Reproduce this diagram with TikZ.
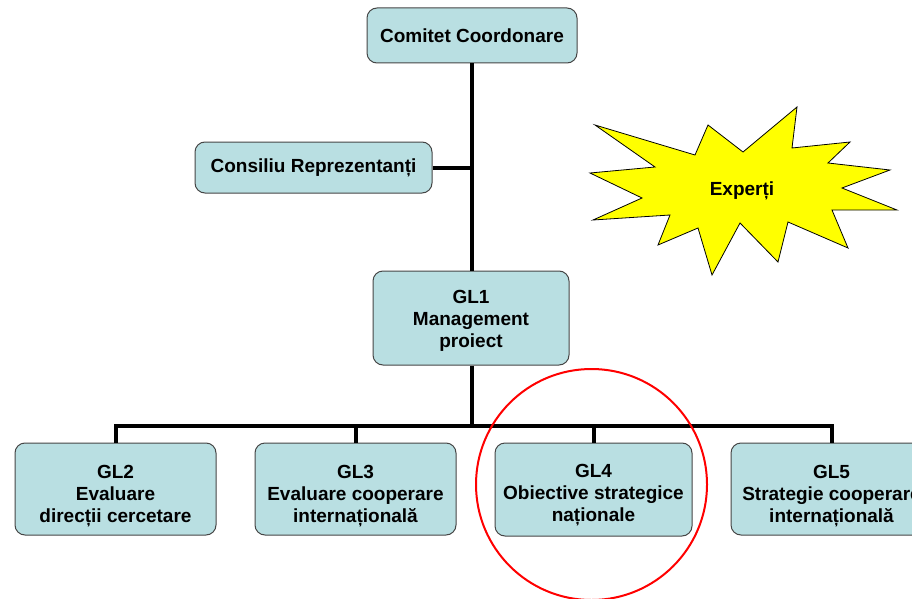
\documentclass[tikz,border=0pt]{standalone}
\usepackage{fontspec}
\setmainfont{Liberation Sans}
\definecolor{boxfill}{RGB}{185,223,226}
\definecolor{boxline}{RGB}{70,70,70}
\definecolor{starfill}{RGB}{255,255,0}
\begin{document}
\begin{tikzpicture}[x=1pt,y=-1pt,
  box/.style={draw=boxline, fill=boxfill, rounded corners=10pt, line width=1pt,
    inner sep=0pt},
  conn/.style={line width=4pt, draw=black},
  lbl/.style={font=\fontsize{19}{22}\selectfont\bfseries, align=center, inner sep=0pt}]
\clip (0,0) rectangle (912,599);
\fill[white] (0,0) rectangle (912,599);
% star
\draw[fill=starfill, draw=black, line width=0.8pt, line join=miter]
 (595,125) -- (695,155) -- (708,125) -- (743,152) -- (797,107) -- (792,148)
 -- (850,142) -- (828,163) -- (890,170) -- (842,188) -- (897,210) -- (832,210)
 -- (848,248) -- (788,222) -- (778,262) -- (740,223) -- (712,275) -- (698,228)
 -- (658,245) -- (670,215) -- (593,220) -- (642,198) -- (590,173) -- (655,167) -- cycle;
\node[lbl] (exp) at (742,191) {Experți};
% boxes
\node[box, minimum width=210pt, minimum height=55pt] (cc) at (472,35.5) {};
\node[box, minimum width=237pt, minimum height=51pt] (cr) at (313.5,167.5) {};
\node[box, minimum width=196pt, minimum height=94pt] (gl1) at (471,318) {};
\node[box, minimum width=201pt, minimum height=92pt] (gl2) at (115.5,489) {};
\node[box, minimum width=201pt, minimum height=92pt] (gl3) at (355.5,489) {};
\node[box, minimum width=197pt, minimum height=93pt] (gl4) at (593.5,489.5) {};
\node[box, minimum width=201pt, minimum height=92pt] (gl5) at (831.5,489) {};
% texts
\node[lbl] (cct) at (cc.center) {Comitet Coordonare};
\node[lbl] (crt) at (cr.center) {Consiliu Reprezentanți};
\node[lbl, yshift=-3pt] (gl1t) at (gl1.center) {GL1\\Management\\proiect};
\node[lbl, yshift=-7pt] (gl2t) at (gl2.center) {GL2\\Evaluare\\direcții cercetare};
\node[lbl, yshift=-7pt] (gl3t) at (gl3.center) {GL3\\Evaluare cooperare\\internațională};
\node[lbl, yshift=-6pt] (gl4t) at (gl4.center) {GL4\\Obiective strategice\\naționale};
\node[lbl, yshift=-7pt] (gl5t) at (gl5.center) {GL5\\Strategie cooperare\\internațională};
% connectors
\coordinate (bus) at (472,426);
\draw[conn] (cc.south -| 472,0) -- (gl1.north -| 472,0);
\draw[conn] (cr.east) -- (cr.east -| 472,0);
\draw[conn] (gl1.south -| 472,0) -- (bus);
\draw[conn, line join=miter] (gl2.north) -- (gl2.north |- bus) -- (gl5.north |- bus) -- (gl5.north);
\draw[conn] (gl3.north) -- (gl3.north |- bus);
\draw[conn] (gl4.north) -- (gl4.north |- bus);
% red circle
\draw[red, line width=2pt] (591.5,484.5) circle[radius=115.5pt];
\end{tikzpicture}
\end{document}
